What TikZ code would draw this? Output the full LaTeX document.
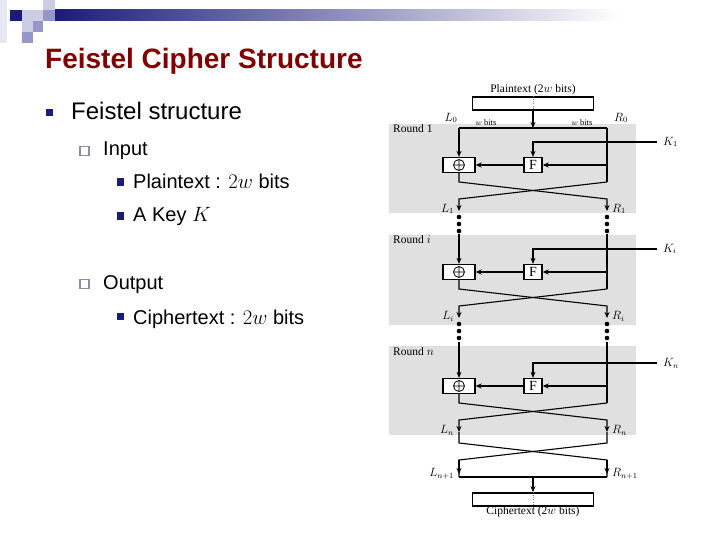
\documentclass[tikz,border=0pt]{standalone}
\usepackage{fontspec}
\setmainfont{Liberation Sans}
\newfontfamily\dserif{Liberation Serif}
\usetikzlibrary{arrows.meta}
\definecolor{navy}{RGB}{28,28,120}
\definecolor{titlered}{RGB}{128,0,0}
\definecolor{roundgray}{RGB}{224,224,224}
\definecolor{lav}{RGB}{204,204,228}
\definecolor{lavlight}{RGB}{232,232,244}
\definecolor{lavmed}{RGB}{150,150,200}
\definecolor{hollow}{RGB}{140,140,170}
\tikzset{
  roundbox/.style={fill=roundgray, draw=none},
  wire/.style={line width=1.1pt},
  arr/.style={wire, -{Stealth[length=6pt,width=5pt]}},
  xorbox/.style={draw, line width=1.3pt, fill=white, minimum width=32, minimum height=15, inner sep=0},
  fbox/.style={draw, line width=1.3pt, fill=white, minimum width=18, minimum height=15, inner sep=0, font=\dserif\fontsize{14}{14}\selectfont},
  txtbox/.style={draw, line width=1.6pt, fill=white, minimum width=121, minimum height=13, inner sep=0},
  dlabel/.style={font=\dserif\fontsize{11.5}{12}\selectfont, inner sep=1},
  mlabel/.style={font=\fontsize{11.5}{12}\selectfont, inner sep=1},
  dot/.style={fill, circle, inner sep=0, minimum size=4.6},
  sqbullet/.style={fill=navy},
  hbullet/.style={draw=hollow, line width=1.4pt},
  lvl1/.style={anchor=base west, inner sep=0, font=\fontsize{24}{28}\selectfont},
  lvl2/.style={anchor=base west, inner sep=0, font=\fontsize{20}{24}\selectfont},
}
\newcommand\fround[6]{%
  % #1 id, #2 top y, #3 centre y of the boxes, #4 key, #5 L out, #6 R out
  \coordinate (lt#1) at (459,#2);
  \coordinate (rt#1) at (607,#2);
  \node[xorbox] (x#1) at (459,#3) {};
  \draw[line width=0.8pt] (x#1.center) circle (5.5)
     (x#1.center) +(-5.5,0) -- +(5.5,0) (x#1.center) +(0,-5.5) -- +(0,5.5);
  \node[fbox] (f#1) at (533,#3) {F};
  \coordinate (ks#1) at (657,#3-23);
  \coordinate (kc#1) at (533,#3-23);
  \coordinate (rb#1) at (607,#3);
  \node[mlabel, anchor=west] (k#1) at (662,#3-23) {$#4$};
  \draw[arr] (lt#1) -- (x#1);
  \draw[arr] (ks#1) -- (kc#1) -- (f#1);
  \draw[arr] (rb#1) -- (f#1);
  \draw[arr] (f#1) -- (x#1);
  \coordinate (la#1) at (459,#3+17);
  \coordinate (lb#1) at (459,#3+34);
  \coordinate (lo#1) at (459,#3+46);
  \coordinate (ra#1) at (607,#3+17);
  \coordinate (rb2#1) at (607,#3+34);
  \coordinate (ro#1) at (607,#3+46);
  \draw[wire] (rt#1) -- (ra#1);
  \draw[arr] (x#1) -- (la#1) -- (rb2#1) -- (ro#1);
  \draw[arr] (ra#1) -- (lb#1) -- (lo#1);
  \node[mlabel, anchor=east] (ll#1) at (455,#3+44) {$#5$};
  \node[mlabel, anchor=west] (rl#1) at (611,#3+44) {$#6$};
}
\newcommand\fdots[1]{%
  \foreach \dd in {6,13,20}{
    \node[dot] at (459,#1+\dd) {};
    \node[dot] at (607,#1+\dd) {};
  }
}
\begin{document}
\begin{tikzpicture}[x=1pt,y=-1pt]
\useasboundingbox (0,0) rectangle (720,540);
% header decoration
\fill[lavlight] (0,0) rectangle (7,43);
\shade[left color=navy, right color=white] (55,10) rectangle (620,21);
\fill[navy] (10,10) rectangle (22,21);
\fill[lav] (22,10) rectangle (43,21);
\fill[lav] (43,0) rectangle (55,10);
\fill[lavmed] (43,10) rectangle (55,21);
\fill[lav] (22,21) rectangle (33,32);
\fill[lavmed] (33,21) rectangle (43,32);
\fill[lavmed] (22,32) rectangle (33,43);
% title
\node[anchor=base west, inner sep=0, text=titlered, font=\bfseries\fontsize{28}{32}\selectfont] (title) at (45,69) {Feistel Cipher Structure};
% bullets
\fill[sqbullet] (46,109) rectangle (53,116);
\node[lvl1] (t1) at (71,120) {Feistel structure};
\draw[hbullet] (80,146.5) rectangle (89,155.5);
\node[lvl2] (t2) at (103,155.5) {Input};
\fill[sqbullet] (116.5,178.5) rectangle (124,186);
\node[lvl2] (t3) at (133,189) {Plaintext : $2w$ bits};
\fill[sqbullet] (116.5,212.5) rectangle (124,220);
\node[lvl2] (t4) at (133,222) {A Key $K$};
\draw[hbullet] (80,279.5) rectangle (89,288.5);
\node[lvl2] (t5) at (103,289) {Output};
\fill[sqbullet] (116.5,312.5) rectangle (124,320);
\node[lvl2] (t6) at (133,324) {Ciphertext : $2w$ bits};
% round backgrounds
\fill[roundbox] (389,124) rectangle (636,213);
\fill[roundbox] (389,235) rectangle (636,325);
\fill[roundbox] (389,346) rectangle (636,435);
\node[dlabel, anchor=west] (r1) at (392,129) {Round 1};
\node[dlabel, anchor=west] (r2) at (392,240) {Round $i$};
\node[dlabel, anchor=west] (r3) at (392,352) {Round $n$};
% plaintext
\node[dlabel] (ptl) at (533,90) {Plaintext (2$w$ bits)};
\node[txtbox] (pt) at (533,103.5) {};
\draw[dotted, gray] (pt.north) -- (pt.south);
\coordinate (top) at (533,128);
\draw[arr] (pt.south) -- (top);
\draw[wire] (459,128) -- (607,128);
\node[mlabel] (l0) at (451,118) {$L_0$};
\node[mlabel] (r0) at (621,118) {$R_0$};
\node[font=\dserif\fontsize{8.5}{9}\selectfont, inner sep=0] (wb1) at (486,123) {$w$ bits};
\node[font=\dserif\fontsize{8.5}{9}\selectfont, inner sep=0] (wb2) at (582,123) {$w$ bits};
% rounds
\fround{1}{128}{165}{K_1}{L_1}{R_1}
\fdots{211}
\fround{2}{234}{272}{K_i}{L_i}{R_i}
\fdots{318}
\fround{3}{342}{386}{K_n}{L_n}{R_n}
% final swap
\coordinate (sa) at (459,443);
\coordinate (sb) at (607,443);
\coordinate (sc) at (459,460);
\coordinate (sd) at (607,460);
\coordinate (se) at (459,477);
\coordinate (sf) at (607,477);
\coordinate (smid) at (533,477);
\draw[wire] (lo3) -- (sa) -- (sd) -- (sf);
\draw[wire] (ro3) -- (sb) -- (sc) -- (se);
\draw[arr] (sd) -- (607,474);
\draw[arr] (sc) -- (459,474);
\draw[wire] (se) -- (sf);
\node[mlabel, anchor=east] (lnn) at (455,474) {$L_{n+1}$};
\node[mlabel, anchor=west] (rnn) at (611,474) {$R_{n+1}$};
\node[txtbox] (ct) at (533,499.5) {};
\draw[dotted, gray] (ct.north) -- (ct.south);
\draw[arr] (smid) -- (ct.north);
\node[dlabel] (ctl) at (533,512) {Ciphertext (2$w$ bits)};
\end{tikzpicture}
\end{document}
